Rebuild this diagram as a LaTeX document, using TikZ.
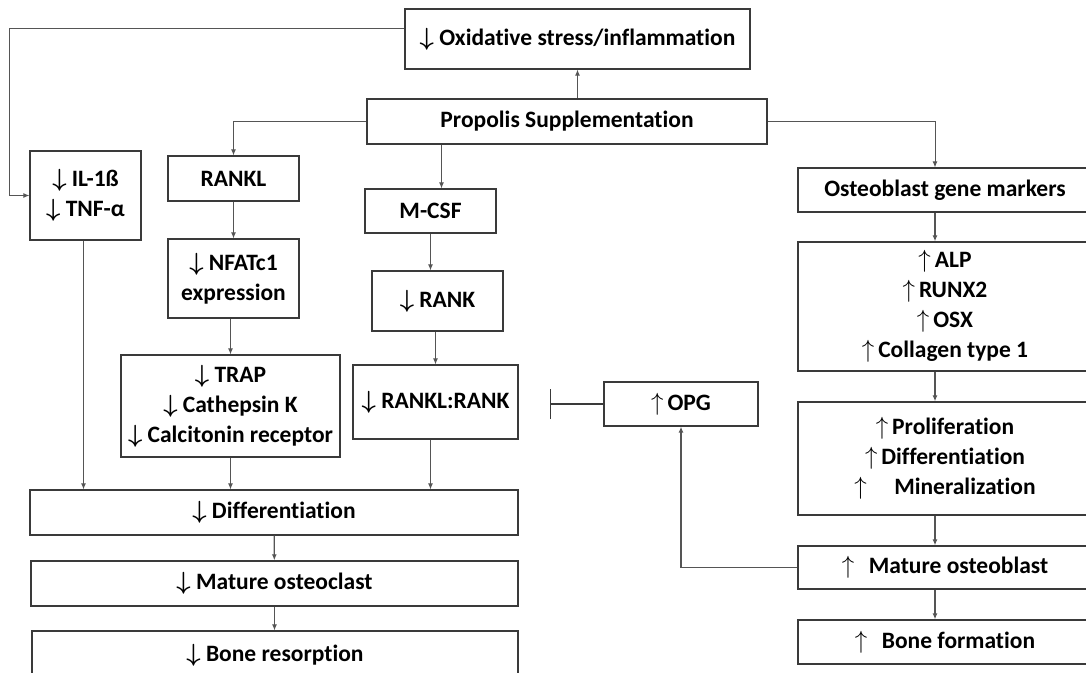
\documentclass[tikz,border=0pt]{standalone}
\usepackage{fontspec}
\setmainfont{Carlito}[Ligatures=NoCommon]
\usetikzlibrary{positioning,arrows.meta}
\definecolor{ink}{HTML}{3A3A3A}
\definecolor{wire}{HTML}{555555}
\newcommand{\decr}{\mbox{\boldmath$\downarrow$}\ }
\newcommand{\incr}{$\uparrow$\,}
\tikzset{
  >={Latex[length=6pt,width=5pt]},
  flow/.style={->, line width=0.9pt, draw=wire},
  box/.style={draw=ink, line width=1.3pt, align=center, inner sep=2pt, fill=white,
              font=\fontsize{23.5}{30}\selectfont\bfseries},
  rcol/.style={box, minimum width=294pt},
}

\begin{document}
\begin{tikzpicture}[x=1pt, y=-1pt]
\useasboundingbox (0,0) rectangle (1086,672);

% --- top ------------------------------------------------------------------------------
\node[box, minimum width=345pt, minimum height=60pt] (ox) at (577.5,39) {\decr Oxidative stress/inflammation};
\node[box, minimum width=400pt, minimum height=45pt] (prop) at (567,121.5) {Propolis Supplementation};

% --- osteoclast side ------------------------------------------------------------------
\node[box, minimum width=111pt, minimum height=89pt] (il) at (85.5,195.5) {\decr IL-1ß\\\decr TNF-α};
\node[box, minimum width=131pt, minimum height=45pt] (rankl) at (233.5,178.5) {RANKL};
\node[box, minimum width=131pt, minimum height=79pt] (nfat) at (233.5,278.5) {\decr NFATc1\\expression};
\node[box, minimum width=219pt, minimum height=102pt] (trap) at (230.5,406)
  {\decr TRAP\\\decr Cathepsin K\\\decr Calcitonin receptor};
\node[box, minimum width=131pt, minimum height=44pt] (mcsf) at (430.5,211) {M-CSF};
\node[box, minimum width=131pt, minimum height=60pt] (rank) at (437.5,301) {\decr RANK};
\node[box, minimum width=165pt, minimum height=74pt] (rr) at (435.5,402) {\decr RANKL:RANK};
\node[box, minimum width=488pt, minimum height=45pt] (diff) at (274,512.5) {\decr Differentiation};
\node[box, minimum width=487pt, minimum height=45pt] (moc) at (274.5,583.5) {\decr Mature osteoclast};
\node[box, minimum width=486pt, minimum height=48pt] (bres) at (275,655) {\decr Bone resorption};

% --- osteoblast side ------------------------------------------------------------------
\node[box, minimum width=154pt, minimum height=44pt] (opg) at (681,404) {\incr OPG};
\node[rcol, minimum height=44pt] (ogm) at (945,190) {Osteoblast gene markers};
\node[rcol, minimum height=129pt] (alp) at (945,306.5)
  {\incr ALP\\\incr RUNX2\\\incr OSX\\\incr Collagen type 1};
\node[rcol, minimum height=113pt] (prolif) at (945,458.5)
  {\incr Proliferation\\\incr Differentiation\\\incr\quad Mineralization};
\node[rcol, minimum height=43pt] (mob) at (945,567.5) {\incr\ \ Mature osteoblast};
\node[rcol, minimum height=44pt] (bform) at (945,642) {\incr\ \ Bone formation};

% --- connectors -----------------------------------------------------------------------
\coordinate (fb) at (9,28);
\coordinate (inh) at (550,404);
\draw[flow] (prop.north -| ox.south) -- (ox.south);
\draw[flow] ([yshift=11pt]ox.west) -- (fb) |- (il.west);
\draw[flow] (prop.west) -| (rankl.north);
\draw[flow] ([xshift=11pt]mcsf.north |- prop.south) -- ([xshift=11pt]mcsf.north);
\draw[flow] (prop.east) -| ([xshift=-10pt]ogm.north);
\draw[flow] (rankl) -- (nfat);
\draw[flow] ([xshift=-3pt]nfat.south) -- ([xshift=-3pt]nfat.south |- trap.north);
\draw[flow] (mcsf) -- (mcsf |- rank.north);
\draw[flow] ([xshift=-2pt]rank.south) -- ([xshift=-2pt]rank.south |- rr.north);
\draw[flow] ([xshift=-2pt]il.south) -- ([xshift=-2pt]il.south |- diff.north);
\draw[flow] (trap.south) -- (trap.south |- diff.north);
\draw[flow] ([xshift=-5pt]rr.south) -- ([xshift=-5pt]rr.south |- diff.north);
\draw[flow, line width=1.3pt] (diff) -- (moc);
\draw[flow] (moc) -- (moc.south |- bres.north);
\draw[-{Bar[width=30pt, line width=1pt]}, line width=1.6pt, draw=ink] (opg.west) -- (opg.west -| inh);
\foreach \a/\b in {ogm/alp, alp/prolif, prolif/mob, mob/bform}
  \draw[flow, line width=1.2pt] ([xshift=-10pt]\a.south) -- ([xshift=-10pt]\b.north);
\draw[flow, line width=1.2pt] (mob.west) -| (opg.south);

\end{tikzpicture}
\end{document}
